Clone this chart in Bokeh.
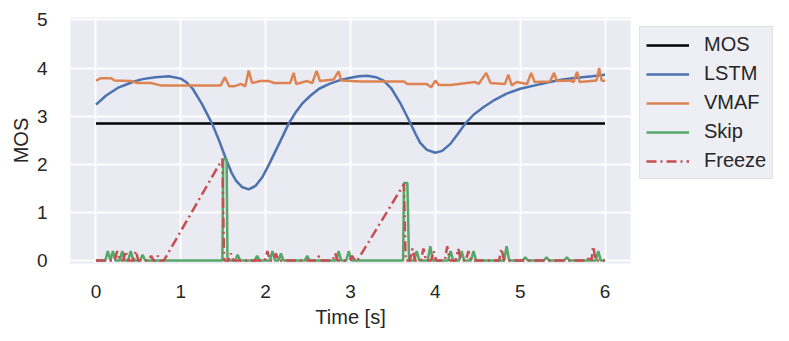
from bokeh.plotting import figure
from bokeh.models import Range1d, FixedTicker, Legend, LegendItem
from bokeh.embed import file_html
from bokeh.resources import INLINE

# ---------------- data ----------------
mos_t = [0.0, 6.0]
mos_v = [2.85, 2.85]

lstm_t = [0.0, 0.12, 0.27, 0.45, 0.55, 0.70, 0.86, 1.00, 1.07, 1.14, 1.25, 1.37, 1.45,
          1.53, 1.60, 1.65, 1.72, 1.80, 1.88, 1.96, 2.04, 2.12, 2.20, 2.27, 2.35, 2.43,
          2.53, 2.63, 2.75, 2.86, 3.00, 3.10, 3.20, 3.30, 3.39, 3.48, 3.59, 3.65, 3.71,
          3.77, 3.82, 3.90, 4.00, 4.08, 4.18, 4.26, 4.35, 4.45, 4.57, 4.70, 4.84, 5.00,
          5.20, 5.35, 5.50, 5.67, 5.85, 6.00]
lstm_v = [3.24, 3.43, 3.60, 3.72, 3.77, 3.81, 3.83, 3.78, 3.70, 3.57, 3.25, 2.84, 2.50,
          2.12, 1.82, 1.66, 1.53, 1.48, 1.55, 1.73, 2.00, 2.29, 2.58, 2.84, 3.07, 3.26,
          3.43, 3.57, 3.67, 3.74, 3.80, 3.83, 3.84, 3.81, 3.74, 3.58, 3.26, 3.05, 2.84,
          2.62, 2.45, 2.30, 2.24, 2.28, 2.43, 2.62, 2.84, 3.03, 3.19, 3.34, 3.47, 3.57,
          3.65, 3.71, 3.76, 3.80, 3.83, 3.86]

vmaf_t = [0.00, 0.06, 0.18, 0.22, 0.41, 0.49, 0.65, 0.76, 1.47, 1.52, 1.57, 1.63, 1.71,
          1.76, 1.80, 1.84, 1.94, 2.04, 2.10, 2.29, 2.33, 2.36, 2.49, 2.55, 2.60, 2.64,
          2.80, 2.86, 2.89, 3.12, 3.63, 3.67, 3.90, 3.95, 4.00, 4.04, 4.18, 4.37, 4.47,
          4.51, 4.60, 4.65, 4.82, 4.86, 4.90, 4.96, 5.08, 5.13, 5.17, 5.35, 5.40, 5.43,
          5.59, 5.63, 5.67, 5.70, 5.90, 5.93, 5.96, 6.00]
vmaf_v = [3.74, 3.79, 3.79, 3.74, 3.73, 3.69, 3.69, 3.64, 3.64, 3.81, 3.62, 3.62, 3.67,
          3.62, 3.95, 3.69, 3.73, 3.73, 3.69, 3.69, 3.90, 3.67, 3.73, 3.69, 3.94, 3.73,
          3.76, 3.93, 3.74, 3.72, 3.72, 3.67, 3.67, 3.60, 3.74, 3.65, 3.65, 3.69, 3.71,
          3.67, 3.90, 3.69, 3.67, 3.86, 3.64, 3.71, 3.67, 3.90, 3.71, 3.72, 3.90, 3.73,
          3.74, 3.71, 3.92, 3.71, 3.74, 4.00, 3.74, 3.73]

skip_t = [0.00, 0.11, 0.14, 0.17, 0.20, 0.23, 0.28, 0.31, 0.34, 0.38, 0.41, 0.44,
          0.52, 0.55, 0.58, 1.49, 1.50, 1.54, 1.55, 1.64, 1.67, 1.70, 1.87, 1.90, 1.93,
          2.05, 2.08, 2.11, 2.15, 2.18, 2.21, 2.46, 2.49, 2.52, 2.83, 2.86, 2.89,
          2.95, 2.98, 3.01, 3.62, 3.63, 3.67, 3.69, 3.75, 3.78, 3.81, 3.91, 3.94, 3.97,
          4.15, 4.18, 4.21, 4.28, 4.31, 4.34, 4.42, 4.45, 4.48, 4.81, 4.84, 4.87,
          5.03, 5.06, 5.09, 5.28, 5.31, 5.34, 5.52, 5.55, 5.58, 5.89, 5.92, 5.95, 6.00]
skip_v = [0.00, 0.00, 0.20, 0.00, 0.20, 0.00, 0.00, 0.20, 0.00, 0.00, 0.20, 0.00,
          0.00, 0.12, 0.00, 0.00, 2.11, 2.11, 0.00, 0.00, 0.12, 0.00, 0.00, 0.10, 0.00,
          0.00, 0.20, 0.00, 0.00, 0.15, 0.00, 0.00, 0.10, 0.00, 0.00, 0.20, 0.00,
          0.00, 0.20, 0.00, 0.00, 1.61, 1.61, 0.00, 0.00, 0.20, 0.00, 0.00, 0.30, 0.00,
          0.00, 0.20, 0.00, 0.00, 0.20, 0.00, 0.00, 0.20, 0.00, 0.00, 0.30, 0.00,
          0.00, 0.07, 0.00, 0.00, 0.07, 0.00, 0.00, 0.07, 0.00, 0.00, 0.20, 0.00, 0.00]

freeze_t = [0.00, 0.22, 0.25, 0.28, 0.32, 0.35, 0.38, 0.44, 0.47, 0.50, 0.62, 0.65, 0.68,
            0.70, 0.73, 0.76, 0.80, 1.49, 1.51, 1.56, 1.59, 1.62, 1.99, 2.02, 2.05,
            2.09, 2.12, 2.15, 2.60, 2.63, 2.66, 2.79, 2.82, 2.85, 2.99, 3.02, 3.05,
            3.08, 3.63, 3.65, 3.70, 3.73, 3.76, 3.83, 3.86, 3.89, 3.95, 3.98, 4.01,
            4.11, 4.14, 4.17, 4.24, 4.27, 4.30, 4.36, 4.39, 4.42, 4.75, 4.78, 4.81,
            5.79, 5.82, 5.84, 5.86, 5.89, 6.00]
freeze_v = [0.00, 0.00, 0.20, 0.00, 0.00, 0.20, 0.00, 0.00, 0.20, 0.00, 0.00, 0.10, 0.00,
            0.00, 0.10, 0.00, 0.00, 2.11, 0.00, 0.00, 0.15, 0.00, 0.00, 0.20, 0.00,
            0.00, 0.15, 0.00, 0.00, 0.10, 0.00, 0.00, 0.15, 0.00, 0.00, 0.10, 0.00,
            0.00, 1.59, 0.00, 0.00, 0.25, 0.00, 0.00, 0.25, 0.00, 0.00, 0.20, 0.00,
            0.00, 0.30, 0.00, 0.00, 0.25, 0.00, 0.00, 0.20, 0.00, 0.00, 0.25, 0.00,
            0.00, 0.10, 0.00, 0.30, 0.00, 0.00]

x_ticks = [0, 1, 2, 3, 4, 5, 6]
y_ticks = [0, 1, 2, 3, 4, 5]

# ---------------- figure ----------------
FONT = "Liberation Sans"
TXT = "#262626"

p = figure(frame_width=560, frame_height=246,
           x_range=Range1d(-0.3, 6.3), y_range=Range1d(-0.06, 5.05),
           output_backend="svg", toolbar_location=None,
           min_border_left=70, min_border_right=143, min_border_top=17, min_border_bottom=62,
           background_fill_color="#EAEAF2", border_fill_color="white",
           outline_line_color=None)

p.xaxis.ticker = FixedTicker(ticks=x_ticks)
p.yaxis.ticker = FixedTicker(ticks=y_ticks)
p.axis.major_tick_line_color = None
p.axis.minor_tick_line_color = None
p.axis.axis_line_color = None
p.axis.major_label_text_font = FONT
p.axis.major_label_text_font_size = "19px"
p.axis.major_label_text_color = TXT
p.axis.axis_label_text_font = FONT
p.axis.axis_label_text_font_size = "20px"
p.axis.axis_label_text_font_style = "normal"
p.axis.axis_label_text_color = TXT
p.xaxis.major_label_standoff = 15
p.yaxis.major_label_standoff = 17
p.xaxis.axis_label = "Time [s]"
p.yaxis.axis_label = "MOS"
p.xaxis.axis_label_standoff = 5
p.yaxis.axis_label_standoff = 2

p.grid.grid_line_color = "white"
p.grid.grid_line_width = 2

LW = 2.5
r_mos = p.line(mos_t, mos_v, line_color="black", line_width=LW)
r_lstm = p.line(lstm_t, lstm_v, line_color="#4C72B0", line_width=LW)
r_vmaf = p.line(vmaf_t, vmaf_v, line_color="#DD8452", line_width=LW)
r_skip = p.line(skip_t, skip_v, line_color="#55A868", line_width=LW)
r_freeze = p.line(freeze_t, freeze_v, line_color="#C44E52", line_width=LW,
                  line_dash="10 4 2 4")

legend = Legend(items=[LegendItem(label="MOS", renderers=[r_mos]),
                       LegendItem(label="LSTM", renderers=[r_lstm]),
                       LegendItem(label="VMAF", renderers=[r_vmaf]),
                       LegendItem(label="Skip", renderers=[r_skip]),
                       LegendItem(label="Freeze", renderers=[r_freeze])],
                location="top_left",
                label_text_font=FONT, label_text_font_size="20px", label_text_color=TXT,
                glyph_width=43, glyph_height=20, label_height=20,
                spacing=6, padding=6, label_standoff=15, margin=9,
                background_fill_color="#EEEEF5", background_fill_alpha=1.0,
                border_line_color="#D3D3D3", border_line_width=1)
p.add_layout(legend, "right")

open("out.html", "w").write(file_html(p, INLINE))
